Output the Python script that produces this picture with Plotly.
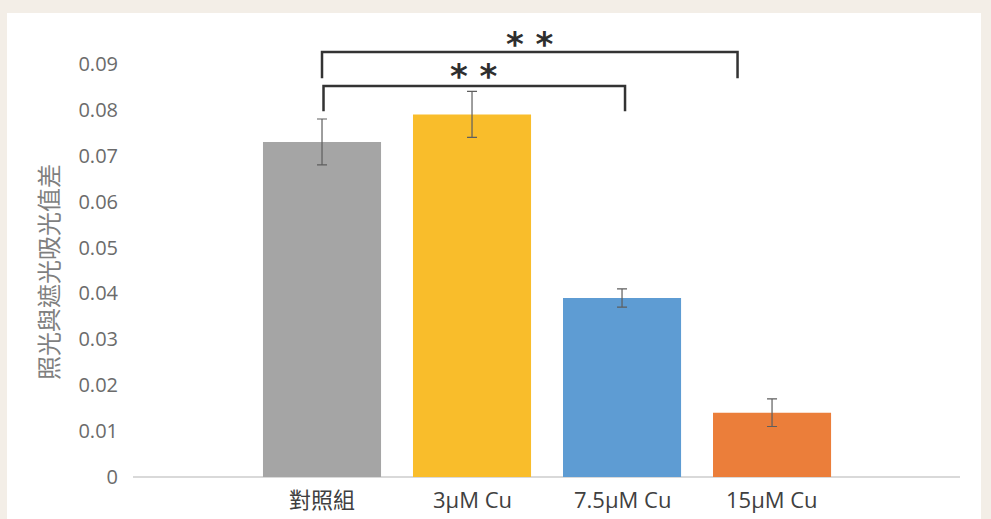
import plotly.graph_objects as go

# Groups, mean absorbance difference and error
categories = ["對照組", "3μM Cu", "7.5μM Cu", "15μM Cu"]
values = [0.073, 0.079, 0.039, 0.014]
errors = [0.005, 0.005, 0.002, 0.003]
bar_colors = ["#a5a5a5", "#f9bd2b", "#5e9cd3", "#eb7e3a"]
y_ticks = [0, 0.01, 0.02, 0.03, 0.04, 0.05, 0.06, 0.07, 0.08, 0.09]
y_tick_text = ["0", "0.01", "0.02", "0.03", "0.04", "0.05", "0.06", "0.07", "0.08", "0.09"]

# Significance brackets: (from group, to group, bar height, leg bottom, label height, label)
brackets = [
    (0, 2.77, 0.0926, 0.0869, 0.0950, "**"),
    (0.01, 2.02, 0.0852, 0.0797, 0.0880, "**"),
]

FONT = "Open Sans, Noto Sans CJK TC, sans-serif"
positions = list(range(len(categories)))

fig = go.Figure()
fig.add_trace(go.Bar(
    x=positions,
    y=values,
    width=0.787,
    marker=dict(color=bar_colors, line=dict(width=0)),
    error_y=dict(type="data", array=errors, visible=True,
                 color="#5e5e5e", thickness=1.2, width=5),
    hoverinfo="skip",
))

shapes = [
    # white card behind the chart
    dict(type="rect", xref="paper", yref="paper",
         x0=-0.1524, x1=1.0254, y0=-0.2, y1=1.0109,
         fillcolor="#ffffff", line=dict(width=0), layer="below"),
]
annotations = []
for x0, x1, top, leg, label_y, label in brackets:
    shapes.append(dict(
        type="path", xref="x", yref="y",
        path=f"M {x0},{leg} L {x0},{top} L {x1},{top} L {x1},{leg}",
        line=dict(color="#333333", width=2.5),
    ))
    annotations.append(dict(
        x=(x0 + x1) / 2, y=label_y, xref="x", yref="y",
        text="<b>" + " ".join(label) + "</b>", showarrow=False,
        yanchor="middle", yshift=-3,
        font=dict(family="DejaVu Sans, sans-serif", size=34, color="#2e2e2e"),
    ))

# rotated y-axis title
annotations.append(dict(
    x=(47 - 133) / 827, xref="paper", xanchor="center",
    y=(477 - 272) / 459, yref="paper", yanchor="middle",
    text="照光與遮光吸光值差", textangle=-90, showarrow=False,
    font=dict(family="Noto Sans CJK TC, sans-serif", size=24, color="#7f7f7f"),
))

# category labels under the axis
for pos, cat in zip(positions, categories):
    is_cjk = any(ord(ch) > 0x2E80 for ch in cat)
    annotations.append(dict(
        x=pos, y=0, xref="x", yref="y", yanchor="top", yshift=-5,
        text=cat, showarrow=False,
        font=dict(family=FONT, size=22, color="#404040"),
    ))

fig.update_layout(
    width=991, height=519,
    margin=dict(l=133, r=31, t=18, b=42),
    paper_bgcolor="#f3eee7",
    plot_bgcolor="rgba(0,0,0,0)",
    showlegend=False,
    shapes=shapes,
    annotations=annotations,
)
fig.update_xaxes(
    range=[-1.26, 4.253], showticklabels=False, showgrid=False,
    zeroline=False, showline=False, ticks="",
)
fig.update_yaxes(
    range=[0, 0.1], tickvals=y_ticks, ticktext=y_tick_text,
    showgrid=False, zeroline=True, zerolinecolor="#d9d9d9", zerolinewidth=1.5,
    showline=False, ticks="", ticklabelstandoff=14,
    tickfont=dict(family=FONT, size=20, color="#6b6b6b"),
)

fig.write_html("out.html")
